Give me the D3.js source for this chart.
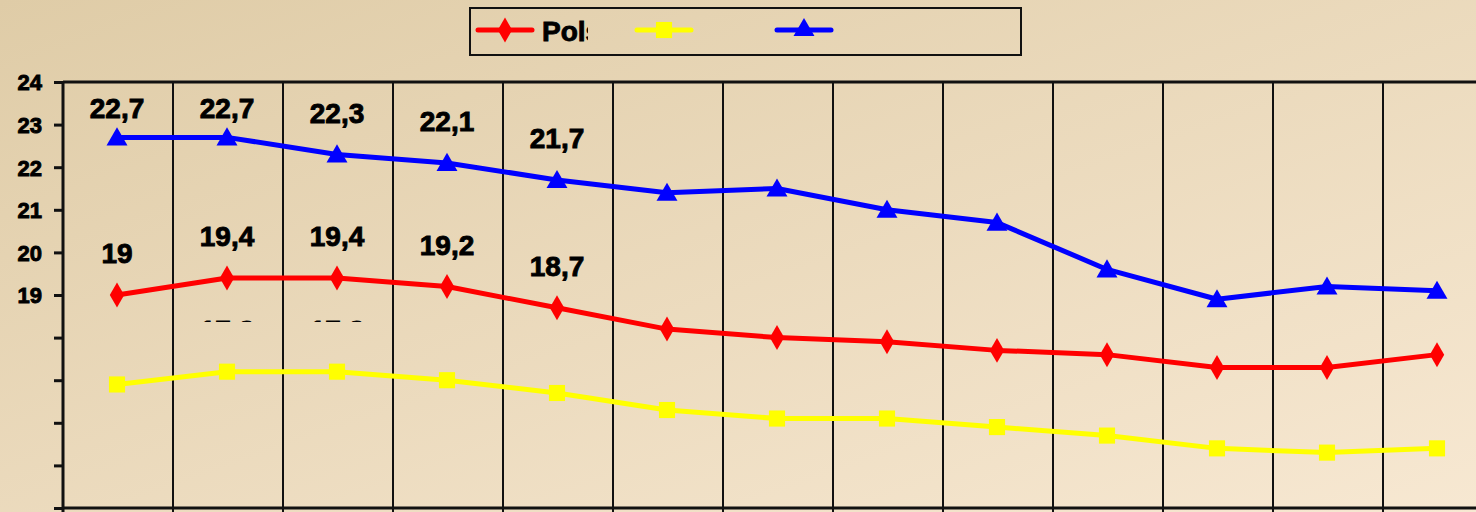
<!DOCTYPE html>
<html>
<head>
<meta charset="utf-8">
<script src="https://cdn.jsdelivr.net/npm/d3@7"></script>
<style>
  html, body { margin: 0; padding: 0; overflow: hidden; }
  svg { display: block; }
  text { font-family: "Liberation Sans", Arial, sans-serif; font-weight: bold; stroke: #000; stroke-width: 0.9px; }
</style>
</head>
<body>
<div id="graph"></div>
<script>
// Données
const categories = ["1", "2", "3", "4", "5", "6", "7", "8", "9", "10", "11", "12", "13"];
const seriesNames = ["Polska", "", ""];
const redValues = [19, 19.4, 19.4, 19.2, 18.7, 18.2, 18.0, 17.9, 17.7, 17.6, 17.3, 17.3, 17.6];
const yellowValues = [16.9, 17.2, 17.2, 17.0, 16.7, 16.3, 16.1, 16.1, 15.9, 15.7, 15.4, 15.3, 15.4];
const blueValues = [22.7, 22.7, 22.3, 22.1, 21.7, 21.4, 21.5, 21.0, 20.7, 19.6, 18.9, 19.2, 19.1];
const yTicks = [14, 15, 16, 17, 18, 19, 20, 21, 22, 23, 24];
const yTickLabels = ["", "", "", "", "", "19", "20", "21", "22", "23", "24"];
// étiquettes affichées : nombre de points étiquetés par série
const redLabelCount = 5;
const blueLabelCount = 5;
const yellowLabelIdx = [1, 2];

const W = 1476, H = 512;
const svg = d3.select("#graph").append("svg").attr("width", W).attr("height", H);

// Fond dégradé
const defs = svg.append("defs");
const grad = defs.append("linearGradient").attr("id", "bg")
  .attr("x1", "0%").attr("y1", "0%").attr("x2", "100%").attr("y2", "100%");
grad.append("stop").attr("offset", "0%").attr("stop-color", "#dfcca7");
grad.append("stop").attr("offset", "100%").attr("stop-color", "#f7e8d2");
svg.append("rect").attr("width", W).attr("height", H).attr("fill", "url(#bg)");

// Échelles
const plotLeft = 63, plotTop = 82, plotBottom = 508;
const x = d3.scaleBand().domain(categories).range([plotLeft, plotLeft + categories.length * 110]);
const y = d3.scaleLinear().domain([14, 24]).range([plotBottom, plotTop]);

// Grille verticale
svg.append("g").selectAll("line")
  .data(categories.slice(1))
  .join("line")
  .attr("x1", d => x(d)).attr("x2", d => x(d))
  .attr("y1", plotTop).attr("y2", H)
  .attr("stroke", "#111").attr("stroke-width", 2);

// Cadre haut et axe bas
svg.append("line").attr("x1", plotLeft).attr("x2", W).attr("y1", plotTop).attr("y2", plotTop)
  .attr("stroke", "#111").attr("stroke-width", 3);
svg.append("line").attr("x1", plotLeft).attr("x2", W).attr("y1", plotBottom).attr("y2", plotBottom)
  .attr("stroke", "#111").attr("stroke-width", 3);

// Axe Y
const yAxis = svg.append("g")
  .attr("transform", `translate(${plotLeft},0)`)
  .call(d3.axisLeft(y).tickValues(yTicks).tickSize(9).tickPadding(12)
    .tickFormat((d, i) => yTickLabels[i]));
yAxis.select(".domain").attr("stroke", "#111").attr("stroke-width", 3).attr("d", `M0,${plotTop}V${H}`);
yAxis.selectAll(".tick line").attr("stroke", "#111").attr("stroke-width", 3);
yAxis.selectAll(".tick text").attr("fill", "#000").style("font-size", "22px")
  .attr("font-family", null).attr("font-size", null).attr("dy", "0.36em");

// Séries
const series = [
  { values: yellowValues, color: "#ffff00", symbol: d3.symbolSquare, size: 260 },
  { values: redValues, color: "#ff0000", symbol: d3.symbolDiamond, size: 180 },
  { values: blueValues, color: "#0000ff", symbol: d3.symbolTriangle, size: 190 }
];
const cx = c => x(c) + x.bandwidth() / 2 - 1;
const line = d3.line().x((d, i) => cx(categories[i])).y(d => y(d));

series.forEach(s => {
  svg.append("path").datum(s.values)
    .attr("d", line).attr("fill", "none")
    .attr("stroke", s.color).attr("stroke-width", 5).attr("stroke-linejoin", "round");
  svg.append("g").selectAll("path")
    .data(s.values)
    .join("path")
    .attr("transform", (d, i) => `translate(${cx(categories[i])},${y(d) + (s.symbol === d3.symbolTriangle ? 2 : 0)})`)
    .attr("d", d3.symbol().type(s.symbol).size(s.size))
    .attr("fill", s.color);
});

// Étiquettes de valeurs
const fmt = v => String(v).replace(".", ",");
function labels(values, idx, clip) {
  const g = svg.append("g");
  if (clip) g.attr("clip-path", clip);
  g.selectAll("text")
    .data(idx)
    .join("text")
    .attr("x", i => cx(categories[i]))
    .attr("y", i => Math.max(y(values[i]) - 42, 108))
    .attr("dy", "0.36em")
    .attr("text-anchor", "middle")
    .style("font-size", "28px")
    .attr("fill", "#000")
    .text(i => fmt(values[i]));
}
labels(blueValues, d3.range(blueLabelCount));
labels(redValues, d3.range(redLabelCount));
defs.append("clipPath").attr("id", "yclip")
  .append("rect").attr("x", 0).attr("y", 319).attr("width", W).attr("height", 3);
labels(yellowValues, yellowLabelIdx, "url(#yclip)");

// Légende
const legend = svg.append("g");
legend.append("rect").attr("x", 470).attr("y", 8).attr("width", 551).attr("height", 47)
  .attr("fill", "none").attr("stroke", "#111").attr("stroke-width", 2);
const legendItems = [
  { s: series[1], x: 476 },
  { s: series[0], x: 635 },
  { s: series[2], x: 775 }
];
legendItems.forEach(it => {
  legend.append("line").attr("x1", it.x + 2).attr("x2", it.x + 56).attr("y1", 30).attr("y2", 30)
    .attr("stroke", it.s.color).attr("stroke-width", 5).attr("stroke-linecap", "round");
  legend.append("path").attr("transform", `translate(${it.x + 29},30)`)
    .attr("d", d3.symbol().type(it.s.symbol).size(it.s.size)).attr("fill", it.s.color);
});
defs.append("clipPath").attr("id", "legclip")
  .append("rect").attr("x", 540).attr("y", 10).attr("width", 48).attr("height", 40);
legend.append("text").attr("x", 542).attr("y", 31).attr("dy", "0.36em")
  .attr("clip-path", "url(#legclip)")
  .style("font-size", "28px").attr("fill", "#000")
  .text(seriesNames[0]);
</script>
</body>
</html>
